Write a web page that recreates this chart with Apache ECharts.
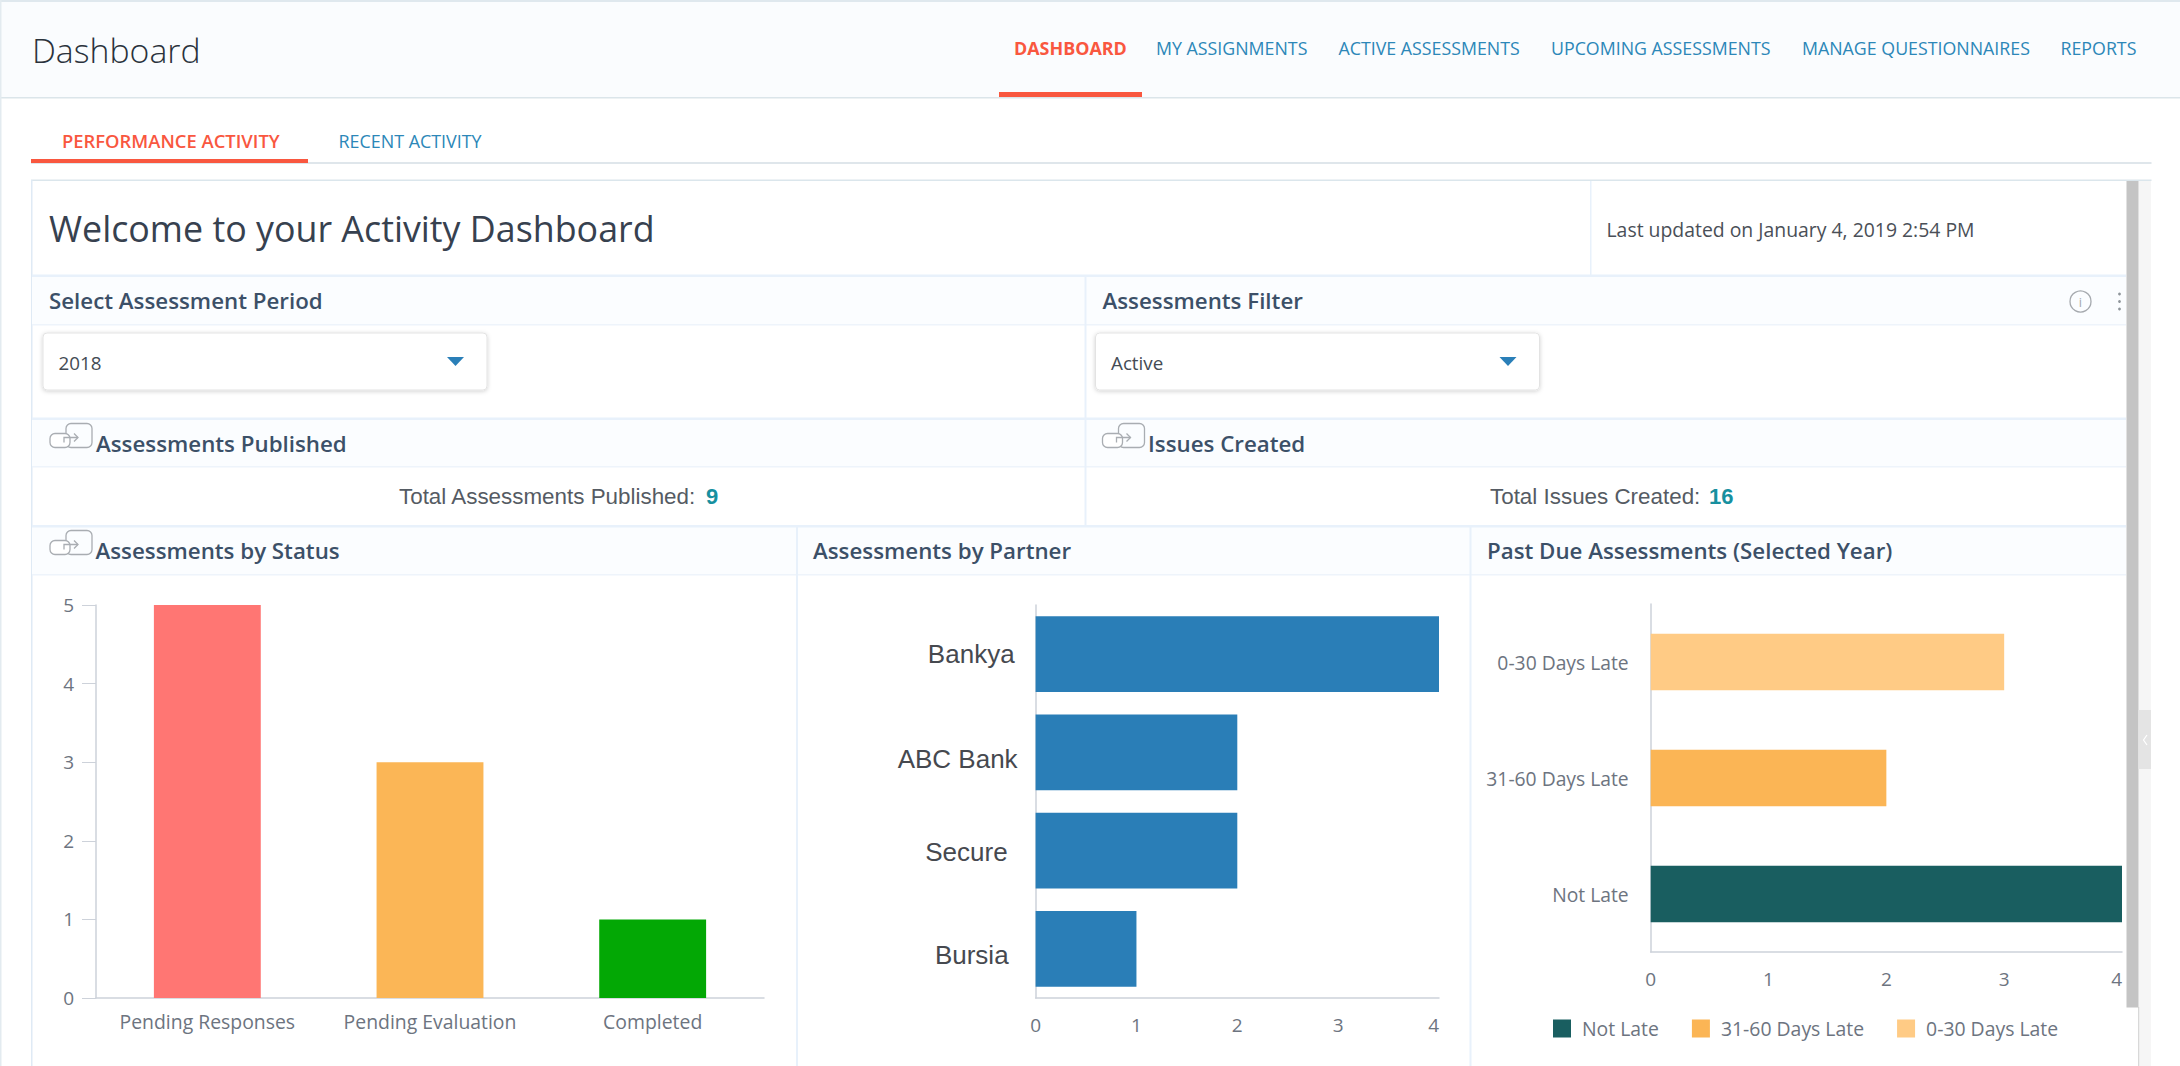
<!DOCTYPE html>
<html><head><meta charset="utf-8">
<style>html,body{margin:0;padding:0;background:#fff;overflow:hidden}#c{width:2180px;height:1066px}</style>
<script src="https://cdn.jsdelivr.net/npm/echarts@6/dist/echarts.min.js"></script>
</head><body><div id="c"></div>
<script>
// --- data ---
const statusCategories = ['Pending Responses', 'Pending Evaluation', 'Completed'];
const statusValues = [5, 3, 1];
const statusColors = ['#ff7673', '#fbb656', '#03a805'];
const partnerCategories = ['Bankya', 'ABC Bank', 'Secure', 'Bursia'];
const partnerValues = [4, 2, 2, 1];
const pastDueCategories = ['Not Late', '31-60 Days Late', '0-30 Days Late'];
const notLateValues = [4, '-', '-'];
const lateShortValues = ['-', 2, '-'];
const lateLongValues = ['-', '-', 3];
const navItems = ['MY ASSIGNMENTS', 'ACTIVE ASSESSMENTS', 'UPCOMING ASSESSMENTS', 'MANAGE QUESTIONNAIRES', 'REPORTS'];

// --- style ---
const OS = '"Open Sans"', LS = '"Liberation Sans"';
const tickCol = '#cdd2da', axisText = '#6d7480', lineCol = '#e8f1fb', headBg = '#fbfdff', headText = '#3c5068';
const g = [];
const rect = (x, y, w, h, fill, extra) => g.push({type: 'rect', silent: true, shape: Object.assign({x, y, width: w, height: h}, (extra && extra.shape) || {}), style: Object.assign({fill}, (extra && extra.style) || {})});
const text = (t, x, y, size, fill, weight, family, align) => g.push({type: 'text', silent: true, style: {text: t, x, y, fontSize: size, fontFamily: family || OS, fontWeight: weight || 400, fill, align: align || 'left', verticalAlign: 'middle'}});

// page header
rect(0, 0, 2180, 97, '#fafcfe');
rect(0, 0, 2180, 2, '#dfe8ee');
rect(0, 97, 2180, 1.5, '#dbe5ea');
rect(0, 0, 1.5, 1066, '#e3ebf0');
text('Dashboard', 32, 50, 33.8, '#2a323c', 300);
text('DASHBOARD', 1014, 48, 17.9, '#f9573f', 700);
rect(999, 92, 143, 5, '#f9573f');
const navX = [1156, 1338.5, 1551, 1802, 2060.5];
const navCol = '#2c87b8';
navItems.forEach((n, i) => text(n, navX[i], 48, 17.8, navCol, 400));

// tabs
text('PERFORMANCE ACTIVITY', 62, 140.5, 18.4, '#f9573f', 600);
text('RECENT ACTIVITY', 338.5, 140.5, 17.9, navCol, 400);
rect(31, 162, 2120.5, 2, '#dfe6eb');
rect(31, 159, 277, 4, '#f9573f');

// panel frame
rect(31, 179.5, 2120.5, 1.5, '#dbe6ec');
rect(31, 180, 1.5, 886, '#dfeaf5');
rect(32, 277, 2094, 47, headBg);
rect(32, 420, 2094, 46, headBg);
rect(32, 527, 2094, 47, headBg);
rect(32, 274.5, 2094, 2.5, lineCol);
rect(32, 324, 2094, 1.5, '#eef4fb');
rect(32, 417.5, 2094, 2.5, lineCol);
rect(32, 466, 2094, 1.5, '#eef4fb');
rect(32, 525, 2094, 2.5, lineCol);
rect(32, 574, 2094, 1.5, '#eef4fb');
rect(1590, 181, 1.5, 94, lineCol);
rect(1084.5, 277, 2, 248, lineCol);
rect(796, 527, 2, 539, lineCol);
rect(1469.5, 527, 2, 539, lineCol);

// header row text
text('Welcome to your Activity Dashboard', 49, 228, 35.8, '#37414f', 400);
text('Last updated on January 4, 2019 2:54 PM', 1606.5, 229, 19.4, '#4a4f57', 400);
text('Select Assessment Period', 49, 300, 22.3, headText, 600);
text('Assessments Filter', 1102.5, 300, 22.3, headText, 600);
text('Assessments Published', 96, 443, 22.3, headText, 600);
text('Issues Created', 1148, 443, 22.3, headText, 600);
text('Assessments by Status', 95.5, 550, 22.3, headText, 600);
text('Assessments by Partner', 813, 550, 22.3, headText, 600);
text('Past Due Assessments (Selected Year)', 1487, 550, 22.3, headText, 600);
text('Total Assessments Published:', 399, 496.5, 22.4, '#555b63', 400, LS);
text('9', 706, 496.5, 22, '#17909f', 700, LS);
text('Total Issues Created:', 1490, 496.5, 22.4, '#555b63', 400, LS);
text('16', 1709, 496.5, 22, '#17909f', 700, LS);

// dropdowns
function dropdown(x, label) {
  g.push({type: 'rect', silent: true, shape: {x, y: 333, width: 444, height: 57, r: 4},
    style: {fill: '#fff', stroke: '#e3e3e3', lineWidth: 1, shadowBlur: 4, shadowColor: 'rgba(0,0,0,.18)', shadowOffsetY: 1}});
  text(label, x + 15.5, 362.5, 18.8, '#444b54', 400);
  g.push({type: 'polygon', silent: true, shape: {points: [[x + 404, 357], [x + 421, 357], [x + 412.5, 366]]}, style: {fill: '#2a7fb8'}});
}
dropdown(43, '2018');
dropdown(1095.5, 'Active');

// share icons
function icon(x, y) {
  const st = {fill: 'none', stroke: '#a9adb2', lineWidth: 1.3};
  g.push({type: 'rect', silent: true, shape: {x: x + 16, y, width: 26, height: 24, r: 5}, style: st});
  g.push({type: 'rect', silent: true, shape: {x, y: y + 10, width: 20, height: 14, r: 5}, style: {fill: '#fff', stroke: '#a9adb2', lineWidth: 1.3}});
  g.push({type: 'polyline', silent: true, shape: {points: [[x + 14, y + 19], [x + 14, y + 14], [x + 28, y + 14]]}, style: {fill: 'none', stroke: '#a9adb2', lineWidth: 1.3}});
  g.push({type: 'polyline', silent: true, shape: {points: [[x + 24, y + 10], [x + 28, y + 14], [x + 24, y + 18]]}, style: {fill: 'none', stroke: '#a9adb2', lineWidth: 1.3}});
}
icon(50, 423.5); icon(1102.5, 423.5); icon(50, 530.5);

// info + menu icons
g.push({type: 'circle', silent: true, shape: {cx: 2080.5, cy: 301.5, r: 10.5}, style: {fill: 'none', stroke: '#a5a9ae', lineWidth: 1.3}});
text('i', 2080.5, 302, 13, '#a5a9ae', 400, OS, 'center');
[294, 301.5, 309].forEach(y => g.push({type: 'circle', silent: true, shape: {cx: 2119.5, cy: y, r: 1.4}, style: {fill: '#8f959b'}}));

// scrollbars
rect(2138.5, 181, 12.5, 885, '#f6f6f6');
rect(2138, 1007, 1.2, 59, '#d8d8d8');
rect(2126.5, 181, 12, 826.5, '#c4c4c4');
rect(2138.5, 710, 12.5, 59, '#e4e4e4');
g.push({type: 'polyline', silent: true, shape: {points: [[2147, 735], [2143.5, 740], [2147, 745]]}, style: {fill: 'none', stroke: '#fff', lineWidth: 1.2}});

// --- charts ---
const axisBase = {
  axisLine: {show: true, onZero: false, lineStyle: {color: tickCol, width: 1.5}},
  splitLine: {show: false}
};
const offsets = {'Bankya': [0, 3], 'ABC Bank': [14, 0], 'Secure': [2, 10], 'Bursia': [12, 9]};

const option = {
  animation: false,
  textStyle: {fontFamily: OS},
  graphic: {elements: g},
  legend: {
    data: ['Not Late', '31-60 Days Late', '0-30 Days Late'],
    left: 1553, top: 1019, padding: 0, itemWidth: 18, itemHeight: 18, itemGap: 33, icon: 'rect',
    selectedMode: false,
    textStyle: {fontFamily: OS, fontSize: 19.4, color: axisText, padding: [0, 0, 0, 6]}
  },
  grid: [
    {left: 96, top: 605, width: 668, height: 393},
    {left: 1035.6, top: 605, width: 403.4, height: 393},
    {left: 1650.7, top: 604, width: 471.3, height: 348}
  ],
  xAxis: [
    Object.assign({}, axisBase, {gridIndex: 0, type: 'category', data: statusCategories,
      axisTick: {alignWithLabel: true, length: 7, lineStyle: {color: tickCol}},
      axisLabel: {fontSize: 19.4, color: axisText, margin: 14, interval: 0, hideOverlap: false}}),
    Object.assign({}, axisBase, {gridIndex: 1, type: 'value', position: 'bottom', min: 0, max: 4, interval: 1,
      axisTick: {length: 14, lineStyle: {color: tickCol}},
      axisLabel: {fontSize: 19, color: axisText, margin: 17, alignMaxLabel: 'right'}}),
    Object.assign({}, axisBase, {gridIndex: 2, type: 'value', position: 'bottom', min: 0, max: 4, interval: 1,
      axisTick: {length: 13, lineStyle: {color: tickCol}},
      axisLabel: {fontSize: 19, color: axisText, margin: 17, alignMaxLabel: 'right'}})
  ],
  yAxis: [
    Object.assign({}, axisBase, {gridIndex: 0, type: 'value', min: 0, max: 5, interval: 1,
      axisTick: {show: true, length: 14, lineStyle: {color: tickCol}},
      axisLabel: {fontSize: 19, color: axisText, margin: 22}}),
    Object.assign({}, axisBase, {gridIndex: 1, type: 'category', inverse: true, data: partnerCategories,
      axisTick: {alignWithLabel: true, length: 7, lineStyle: {color: tickCol}},
      axisLabel: {margin: 18, interval: 0,
        formatter: v => '{' + v.replace(/\s/g, '') + '|' + v + '}',
        rich: Object.fromEntries(partnerCategories.map(v => [v.replace(/\s/g, ''), {
          fontFamily: LS, fontSize: 26, color: '#46494f',
          padding: [offsets[v][0], offsets[v][1], 0, 0]
        }]))}}),
    Object.assign({}, axisBase, {gridIndex: 2, type: 'category', data: pastDueCategories,
      axisTick: {alignWithLabel: true, length: 7, lineStyle: {color: tickCol}},
      axisLabel: {fontSize: 19.3, color: axisText, margin: 22, interval: 0}})
  ],
  series: [
    {type: 'bar', name: 'Assessments by Status', xAxisIndex: 0, yAxisIndex: 0, barWidth: '48%',
      data: statusValues.map((v, i) => ({value: v, itemStyle: {color: statusColors[i]}}))},
    {type: 'bar', name: 'Assessments by Partner', xAxisIndex: 1, yAxisIndex: 1, barWidth: '77%',
      itemStyle: {color: '#2a7eb7'}, data: partnerValues},
    {type: 'bar', name: 'Not Late', xAxisIndex: 2, yAxisIndex: 2, stack: 'due', barWidth: '48.5%', itemStyle: {color: '#195e60'}, data: notLateValues},
    {type: 'bar', name: '31-60 Days Late', xAxisIndex: 2, yAxisIndex: 2, stack: 'due', barWidth: '48.5%', itemStyle: {color: '#fbb555'}, data: lateShortValues},
    {type: 'bar', name: '0-30 Days Late', xAxisIndex: 2, yAxisIndex: 2, stack: 'due', barWidth: '48.5%', itemStyle: {color: '#ffcb85'}, data: lateLongValues}
  ]
};
const chart = echarts.init(document.getElementById('c'), null, {renderer: 'svg', width: 2180, height: 1066});
chart.setOption(option);
</script></body></html>
